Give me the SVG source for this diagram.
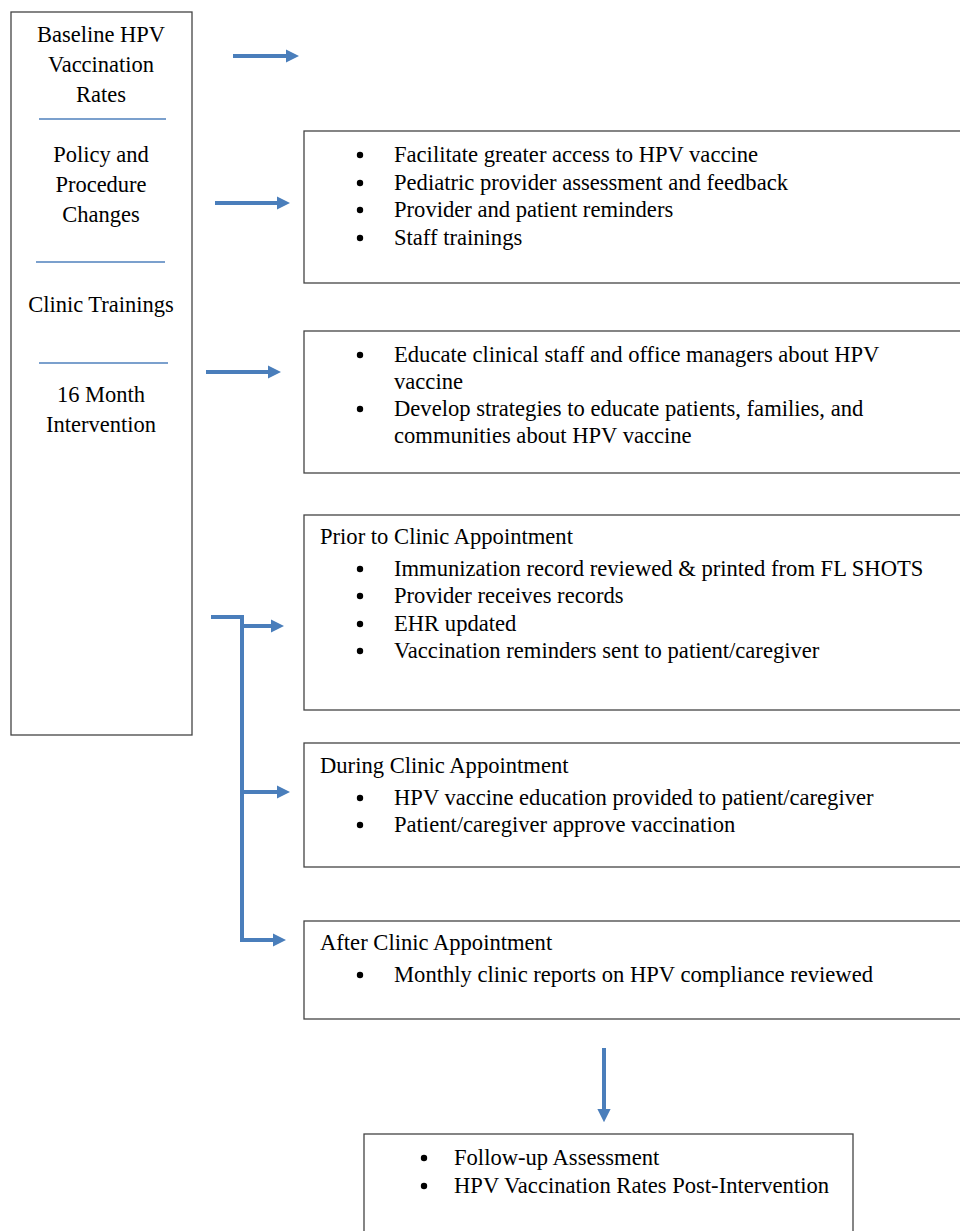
<svg xmlns="http://www.w3.org/2000/svg" width="960" height="1231" viewBox="0 0 960 1231">
<defs>
<style>
.box{fill:#fff;stroke:#444;stroke-width:1.3}
.sep{stroke:#4f81bd;stroke-width:1.3}
.t{font-family:"Liberation Serif","Times New Roman",serif;font-size:22.6px;fill:#000}
.tc{font-family:"Liberation Serif","Times New Roman",serif;font-size:22.5px;fill:#000;text-anchor:middle}
.b{fill:#000}
.conn{stroke:#4a7ebb;stroke-width:4;fill:none}
</style>
<marker id="ah" viewBox="0 0 10 10" refX="0" refY="5" markerWidth="3.3" markerHeight="3.3" orient="auto" markerUnits="strokeWidth">
<path d="M0,0 L10,5 L0,10 z" fill="#4a7ebb"/>
</marker>
</defs>
<rect width="960" height="1231" fill="#fff"/>

<g id="left">
<rect class="box" x="11" y="12" width="181" height="723"/>
<text class="tc" x="101" y="42">Baseline HPV</text>
<text class="tc" x="101" y="72">Vaccination</text>
<text class="tc" x="101" y="102">Rates</text>
<line class="sep" x1="39" y1="119" x2="166" y2="119"/>
<text class="tc" x="101" y="162">Policy and</text>
<text class="tc" x="101" y="192">Procedure</text>
<text class="tc" x="101" y="222">Changes</text>
<line class="sep" x1="36" y1="262" x2="165" y2="262"/>
<text class="tc" x="101" y="312">Clinic Trainings</text>
<line class="sep" x1="39" y1="363" x2="168" y2="363"/>
<text class="tc" x="101" y="402">16 Month</text>
<text class="tc" x="101" y="432">Intervention</text>
</g>

<g id="boxA">
<rect class="box" x="304" y="131" width="670" height="152"/>
<circle class="b" cx="360" cy="155" r="3.2"/><text class="t" x="394" y="162">Facilitate greater access to HPV vaccine</text>
<circle class="b" cx="360" cy="183" r="3.2"/><text class="t" x="394" y="190">Pediatric provider assessment and feedback</text>
<circle class="b" cx="360" cy="210" r="3.2"/><text class="t" x="394" y="217">Provider and patient reminders</text>
<circle class="b" cx="360" cy="238" r="3.2"/><text class="t" x="394" y="245">Staff trainings</text>
</g>

<g id="boxB">
<rect class="box" x="304" y="331" width="670" height="142"/>
<circle class="b" cx="360" cy="355" r="3.2"/><text class="t" x="394" y="362">Educate clinical staff and office managers about HPV</text>
<text class="t" x="394" y="389">vaccine</text>
<circle class="b" cx="360" cy="409" r="3.2"/><text class="t" x="394" y="416">Develop strategies to educate patients, families, and</text>
<text class="t" x="394" y="443">communities about HPV vaccine</text>
</g>

<g id="boxC">
<rect class="box" x="304" y="515" width="670" height="195"/>
<text class="t" x="320" y="544">Prior to Clinic Appointment</text>
<circle class="b" cx="360" cy="569" r="3.2"/><text class="t" x="394" y="576">Immunization record reviewed &amp; printed from FL SHOTS</text>
<circle class="b" cx="360" cy="596" r="3.2"/><text class="t" x="394" y="603">Provider receives records</text>
<circle class="b" cx="360" cy="624" r="3.2"/><text class="t" x="394" y="631">EHR updated</text>
<circle class="b" cx="360" cy="651" r="3.2"/><text class="t" x="394" y="658">Vaccination reminders sent to patient/caregiver</text>
</g>

<g id="boxD">
<rect class="box" x="304" y="743" width="670" height="124"/>
<text class="t" x="320" y="773">During Clinic Appointment</text>
<circle class="b" cx="360" cy="798" r="3.2"/><text class="t" x="394" y="805">HPV vaccine education provided to patient/caregiver</text>
<circle class="b" cx="360" cy="825" r="3.2"/><text class="t" x="394" y="832">Patient/caregiver approve vaccination</text>
</g>

<g id="boxE">
<rect class="box" x="304" y="921" width="670" height="98"/>
<text class="t" x="320" y="950">After Clinic Appointment</text>
<circle class="b" cx="360" cy="975" r="3.2"/><text class="t" x="394" y="982">Monthly clinic reports on HPV compliance reviewed</text>
</g>

<g id="boxF">
<rect class="box" x="364" y="1134" width="489" height="110"/>
<circle class="b" cx="424" cy="1158" r="3.2"/><text class="t" x="454" y="1165">Follow-up Assessment</text>
<circle class="b" cx="424" cy="1186" r="3.2"/><text class="t" x="454" y="1193">HPV Vaccination Rates Post-Intervention</text>
</g>

<g id="connectors">
<line class="conn" x1="233" y1="56" x2="286" y2="56" marker-end="url(#ah)"/>
<line class="conn" x1="215" y1="203" x2="277" y2="203" marker-end="url(#ah)"/>
<line class="conn" x1="206" y1="372" x2="268" y2="372" marker-end="url(#ah)"/>
<polyline class="conn" points="211,617 242,617 242,940"/>
<line class="conn" x1="242" y1="626" x2="271" y2="626" marker-end="url(#ah)"/>
<line class="conn" x1="242" y1="792" x2="277" y2="792" marker-end="url(#ah)"/>
<line class="conn" x1="240" y1="940" x2="273" y2="940" marker-end="url(#ah)"/>
<line class="conn" x1="604" y1="1048" x2="604" y2="1109" marker-end="url(#ah)"/>
</g>
</svg>
